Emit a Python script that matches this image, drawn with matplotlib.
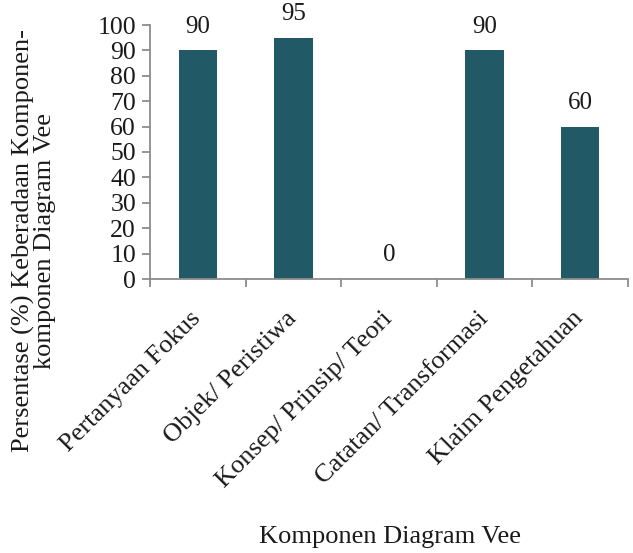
import matplotlib
matplotlib.use("Agg")
import matplotlib.pyplot as plt
import numpy as np

categories = ["Pertanyaan Fokus", "Objek/ Peristiwa", "Konsep/ Prinsip/ Teori",
              "Catatan/ Transformasi", "Klaim Pengetahuan"]
values = [90, 95, 0, 90, 60]
y_ticks = [0, 10, 20, 30, 40, 50, 60, 70, 80, 90, 100]

bar_color = "#225967"
axis_color = "#8c8c8c"
text_color = "#1a1a1a"
plt.rcParams["font.family"] = ["Liberation Serif", "DejaVu Serif"]

fig = plt.figure(figsize=(6.33, 5.53), dpi=100)
ax = fig.add_axes([150 / 633, 1 - 279 / 553, (628 - 150) / 633, (279 - 25) / 553])

x = np.arange(len(categories))
ax.bar(x, values, width=0.4, color=bar_color, zorder=2)

for xi, v in zip(x, values):
    ax.annotate(f"{v}", (xi, v), xytext=(0, 17), textcoords="offset points",
                ha="center", va="center", fontsize=18, color=text_color)

ax.set_xlim(-0.5, len(categories) - 0.5)
ax.set_ylim(0, 100)
ax.set_yticks(y_ticks)
ax.set_yticklabels([str(t) for t in y_ticks], fontsize=18.5, color=text_color)

# boundary ticks on the category axis, labels at the centres
ax.set_xticks(np.arange(-0.5, len(categories), 1.0))
ax.set_xticklabels([])
ax.set_xticks(x, minor=True)
ax.set_xticklabels(categories, minor=True, rotation=45, ha="right",
                   va="center", rotation_mode="anchor", fontsize=19, color=text_color)
ax.tick_params(axis="x", which="minor", length=0, pad=26)
ax.tick_params(axis="x", which="major", length=6, width=1.3, color=axis_color, direction="out")
ax.tick_params(axis="y", length=6, width=1.3, color=axis_color, direction="out", pad=4)

for side in ["top", "right"]:
    ax.spines[side].set_visible(False)
for side in ["left", "bottom"]:
    ax.spines[side].set_color(axis_color)
    ax.spines[side].set_linewidth(1.3)

fig.text(390 / 633, 1 - 537 / 553, "Komponen Diagram Vee", ha="center", va="center",
         fontsize=19, color=text_color)
fig.text(34 / 633, 1 - 241 / 553, "Persentase (%) Keberadaan Komponen-\nkomponen Diagram Vee",
         ha="center", va="center", rotation=90, fontsize=19, color=text_color,
         multialignment="center", linespacing=0.95)

fig.savefig("out.png", dpi=100, facecolor="white")
